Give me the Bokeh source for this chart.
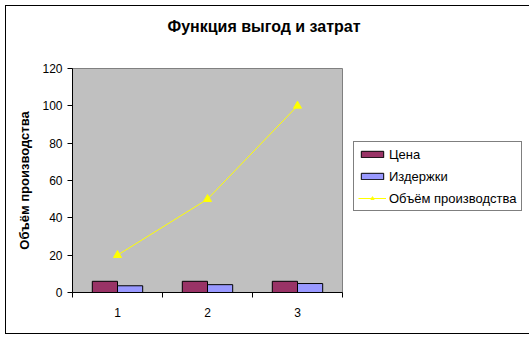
from bokeh.plotting import figure
from bokeh.models import (ColumnDataSource, FixedTicker, Legend, LegendItem,
                          Range1d, Title)
from bokeh.transform import dodge
from bokeh.embed import file_html
from bokeh.resources import INLINE

categories = ["1", "2", "3"]
price = [6, 6, 6]          # Цена
costs = [3.6, 4.2, 4.8]    # Издержки
volume = [20, 50, 100]     # Объём производства
y_ticks = [0, 20, 40, 60, 80, 100, 120]

xs = [int(c) for c in categories]
src = ColumnDataSource(dict(x=xs, price=price, costs=costs, volume=volume))

p = figure(frame_width=270, frame_height=224, output_backend="svg",
           toolbar_location=None,
           x_range=Range1d(0.5, 3.5), y_range=Range1d(0, 120),
           min_border_left=66, min_border_right=182, min_border_top=62,
           min_border_bottom=41)
p.margin = (6, 0, 0, 6)
p.styles = {"outline": "1px solid black"}
p.background_fill_color = "#C0C0C0"
p.border_fill_color = "white"
p.outline_line_color = "#808080"
p.outline_line_width = 1
p.grid.visible = False

p.title.text = "Функция выгод и затрат"
p.title.text_font = "Liberation Sans"
p.title.text_font_size = "16px"
p.title.text_font_style = "bold"
p.title.text_color = "black"
p.title.align = "left"
p.title.offset = 95
p.title.standoff = 0

spacer = Title(text=" ", text_font_size="1px", standoff=31)
p.add_layout(spacer, "above")

r1 = p.vbar(x=dodge("x", -0.14), top="price", width=0.28, source=src,
            fill_color="#993366", line_color="black", line_width=1)
r2 = p.vbar(x=dodge("x", 0.14), top="costs", width=0.28, source=src,
            fill_color="#9999FF", line_color="black", line_width=1)
r3 = p.line(x="x", y="volume", source=src, line_color="#FFFF00", line_width=1)
r4 = p.scatter(x="x", y="volume", source=src, marker="triangle", size=8,
               fill_color="#FFFF00", line_color="#FFFF00")

# axes
xa = p.xaxis[0]
xa.ticker = FixedTicker(ticks=xs, minor_ticks=[0.5, 1.5, 2.5, 3.5])
xa.major_tick_out = 0
xa.major_tick_in = 0
xa.minor_tick_out = 5
xa.minor_tick_in = 0
xa.minor_tick_line_color = "black"
xa.axis_line_color = "black"
xa.major_label_standoff = 10
xa.major_label_text_font = "Liberation Sans"
xa.major_label_text_font_size = "12px"
xa.major_label_text_color = "black"

ya = p.yaxis[0]
ya.ticker = FixedTicker(ticks=y_ticks)
ya.minor_tick_line_color = None
ya.major_tick_out = 5
ya.major_tick_in = 0
ya.axis_line_color = "black"
ya.major_label_standoff = 5
ya.major_label_text_font = "Liberation Sans"
ya.major_label_text_font_size = "12px"
ya.major_label_text_color = "black"
ya.axis_label = "Объём производства"
ya.axis_label_text_font = "Liberation Sans"
ya.axis_label_text_font_size = "13px"
ya.axis_label_text_font_style = "bold"
ya.axis_label_text_color = "black"
ya.axis_label_standoff = 7

legend = Legend(items=[
    LegendItem(label="Цена", renderers=[r1]),
    LegendItem(label="Издержки", renderers=[r2]),
    LegendItem(label="Объём производства", renderers=[r3, r4]),
], location=(11, 81))
legend.border_line_color = "black"
legend.border_line_width = 1
legend.background_fill_color = "white"
legend.background_fill_alpha = 1
legend.label_text_font = "Liberation Sans"
legend.label_text_font_size = "13px"
legend.label_text_color = "black"
legend.glyph_width = 28
legend.glyph_height = 8
legend.label_standoff = 3
legend.padding = 4
legend.spacing = 6
legend.margin = 0
legend.label_height = 16
p.add_layout(legend, "right")

open("out.html", "w").write(file_html(p, INLINE))
